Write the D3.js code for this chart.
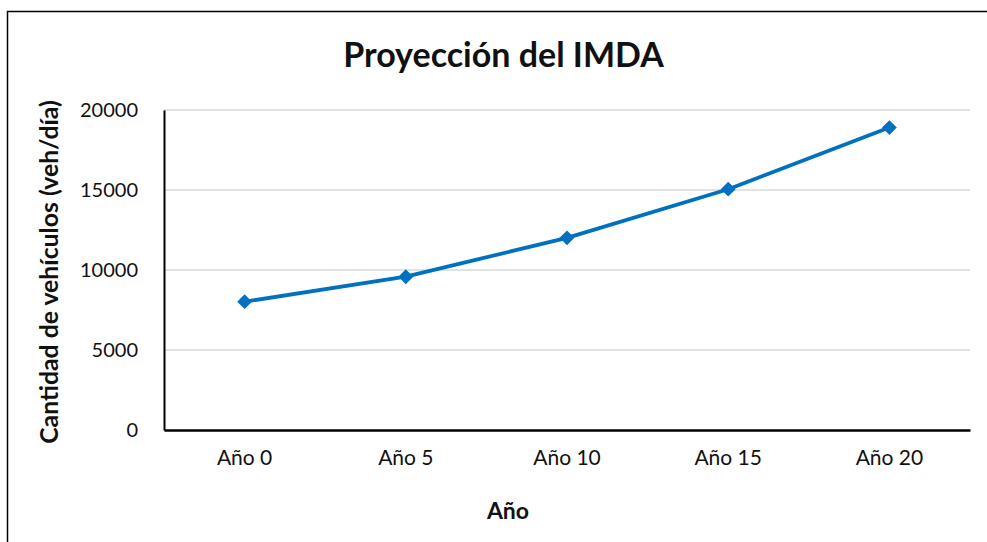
<!DOCTYPE html>
<html>
<head>
<meta charset="utf-8">
<script src="https://cdn.jsdelivr.net/npm/d3@7"></script>
<style>
  body { margin: 0; background: #fff; }
  svg { display: block; font-family: Lato, "Open Sans", sans-serif; }
</style>
</head>
<body>
<script>
// Categories on the x axis.
const years = ["Año 0", "Año 5", "Año 10", "Año 15", "Año 20"];

// Projected IMDA (veh/día).
const imda = [8020, 9580, 12010, 15050, 18900];

// Y axis tick values.
const yTicks = [0, 5000, 10000, 15000, 20000];

const Width = 987;
const Height = 542;

// Plot area.
const Left = 164;
const Right = 970;
const Top = 110;
const Bottom = 430;

const Blue = "#0070C0";

const svg = d3.select("body").append("svg")
    .attr("width", Width)
    .attr("height", Height);

// Chart frame (runs off the right and bottom edges).
svg.append("path")
    .attr("fill", "none")
    .attr("stroke", "black")
    .attr("stroke-width", 1.5)
    .attr("d", `M 7.5 ${Height + 5} L 7.5 11.5 L ${Width + 5} 11.5`);

const x = d3.scaleBand()
    .domain(years)
    .range([Left, Right]);

const y = d3.scaleLinear()
    .domain([0, 20000])
    .range([Bottom, Top]);

// Horizontal gridlines.
svg.append("g")
    .selectAll("line")
    .data(yTicks.slice(1))
    .join("line")
    .attr("x1", Left)
    .attr("x2", Right)
    .attr("y1", d => y(d))
    .attr("y2", d => y(d))
    .attr("stroke", "#d9d9d9")
    .attr("stroke-width", 1.5);

// Y axis.
const yAxis = svg.append("g")
    .attr("transform", `translate(${Left},0)`)
    .call(d3.axisLeft(y).tickValues(yTicks).tickSize(0).tickPadding(26).tickFormat(d3.format("d")));
yAxis.select(".domain").attr("stroke", "black").attr("stroke-width", 2);
yAxis.selectAll("text")
    .attr("font-size", 20)
    .attr("font-family", "Lato, sans-serif")
    .attr("fill", "#111");

// X axis.
const xAxis = svg.append("g")
    .attr("transform", `translate(0,${Bottom})`)
    .call(d3.axisBottom(x).tickSize(0).tickPadding(20));
xAxis.select(".domain").attr("stroke", "black").attr("stroke-width", 2.5);
xAxis.selectAll("text")
    .attr("font-size", 21)
    .attr("font-family", "Lato, sans-serif")
    .attr("fill", "#111");

// Line.
const line = d3.line()
    .x((d, i) => x(years[i]) + x.bandwidth() / 2)
    .y(d => y(d));

svg.append("path")
    .datum(imda)
    .attr("fill", "none")
    .attr("stroke", Blue)
    .attr("stroke-width", 3.8)
    .attr("stroke-linejoin", "round")
    .attr("d", line);

// Diamond markers.
svg.append("g")
    .selectAll("path")
    .data(imda)
    .join("path")
    .attr("transform", (d, i) => `translate(${x(years[i]) + x.bandwidth() / 2},${y(d)})`)
    .attr("d", d3.symbol(d3.symbolDiamond2, 140))
    .attr("fill", Blue);

// Title.
svg.append("text")
    .attr("x", 503.5)
    .attr("y", 67)
    .attr("text-anchor", "middle")
    .attr("font-size", 34)
    .attr("font-weight", "bold")
    .attr("fill", "#111")
    .text("Proyección del IMDA");

// Axis titles.
svg.append("text")
    .attr("x", 508)
    .attr("y", 519)
    .attr("text-anchor", "middle")
    .attr("font-size", 23)
    .attr("font-weight", "bold")
    .attr("fill", "#111")
    .text("Año");

svg.append("text")
    .attr("transform", "translate(58,272) rotate(-90)")
    .attr("text-anchor", "middle")
    .attr("font-size", 24.8)
    .attr("font-weight", "bold")
    .attr("fill", "#111")
    .text("Cantidad de vehículos (veh/día)");
</script>
</body>
</html>
